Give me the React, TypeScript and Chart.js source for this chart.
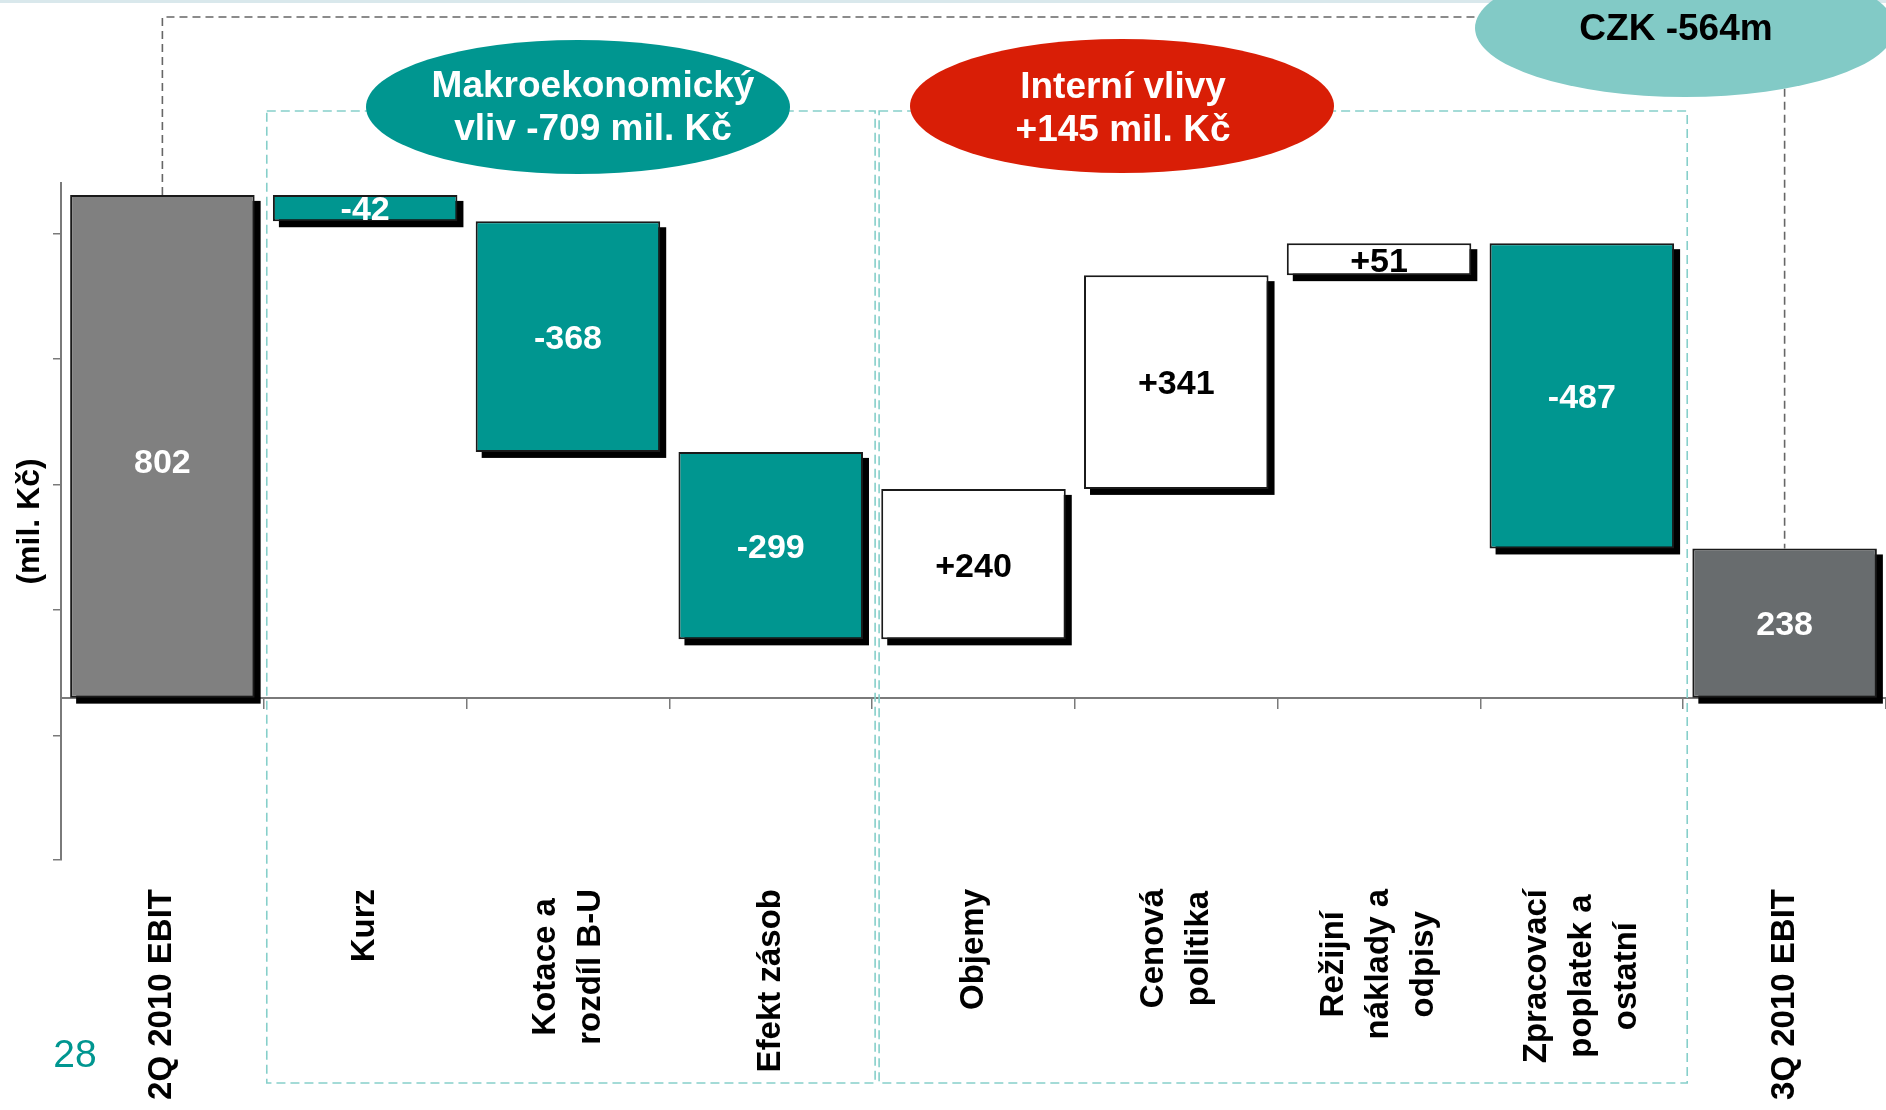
import React, { useEffect, useRef } from 'react';
import { Chart, registerables } from 'chart.js';

Chart.register(...registerables);

// ---- data ----
const categories: string[][] = [
  ['2Q 2010 EBIT'],
  ['Kurz'],
  ['Kotace a', 'rozdíl B-U'],
  ['Efekt zásob'],
  ['Objemy'],
  ['Cenová', 'politika'],
  ['Režijní', 'náklady a', 'odpisy'],
  ['Zpracovací', 'poplatek a', 'ostatní'],
  ['3Q 2010 EBIT'],
];
const barKinds = ['total', 'change', 'change', 'change', 'change', 'change', 'change', 'change', 'total'];
const values = [802, -42, -368, -299, 240, 341, 51, -487, 238];
const valueLabels = ['802', '-42', '-368', '-299', '+240', '+341', '+51', '-487', '238'];
const yTickValues = [-259, -60, 140, 340, 540, 740];
const yMin = -259;
const yMax = 821;
const yTitle = '(mil. Kč)';
const macroText = ['Makroekonomický', 'vliv -709 mil. Kč'];
const internalText = ['Interní vlivy', '+145 mil. Kč'];
const totalText = 'CZK -564m';
const pageNumber = '28';

// ---- styling ----
const FONT = '"Liberation Sans", Arial, Helvetica, sans-serif';
const TEAL = '#009690';
const RED = '#d91e06';
const LIGHT_TEAL = '#82cac6';
const DASH_TEAL = '#86cfca';
const GRAY1 = '#808080';
const GRAY2 = '#686c6e';
// vertical nudge (px) of the value label inside a bar, by bar index (style only)
const labelNudge: Record<number, number> = { 0: 14 };

// build floating ranges (waterfall) from values
const ranges: [number, number][] = [];
{
  let running = 0;
  values.forEach((v, i) => {
    if (barKinds[i] === 'total') {
      ranges.push([0, v]);
      running = v;
    } else {
      ranges.push([running, running + v]);
      running += v;
    }
  });
}
const fillColors = values.map((v, i) =>
  barKinds[i] === 'total' ? (i === 0 ? GRAY1 : GRAY2) : v < 0 ? TEAL : '#ffffff'
);
const labelColors = values.map((v, i) => (barKinds[i] === 'total' || v < 0 ? '#ffffff' : '#000000'));

const decorPlugin = {
  id: 'decor',
  beforeDraw(chart: any) {
    const ctx = chart.ctx;
    ctx.save();
    ctx.fillStyle = '#ffffff';
    ctx.fillRect(0, 0, chart.width, chart.height);
    ctx.fillStyle = '#d9e8ec';
    ctx.fillRect(0, 0, chart.width, 3);
    ctx.restore();
  },
  beforeDatasetsDraw(chart: any) {
    const ctx = chart.ctx;
    const xs = chart.scales.x;
    const meta = chart.getDatasetMeta(0);
    const bnd = (k: number) => (xs.getPixelForValue(k - 1) + xs.getPixelForValue(k)) / 2;

    // teal dashed group boxes
    ctx.save();
    ctx.strokeStyle = DASH_TEAL;
    ctx.lineWidth = 1.6;
    ctx.setLineDash([9, 5]);
    const top = 111;
    const bottom = 1083;
    const b1l = bnd(1) + 3;
    const b1r = bnd(4) + 3;
    const b2l = bnd(4) + 7;
    const b2r = bnd(8) + 4;
    ctx.strokeRect(b1l, top, b1r - b1l, bottom - top);
    ctx.strokeRect(b2l, top, b2r - b2l, bottom - top);
    ctx.restore();

    // gray dashed connector
    const first = meta.data[0];
    const last = meta.data[meta.data.length - 1];
    ctx.save();
    ctx.strokeStyle = '#666666';
    ctx.lineWidth = 1.6;
    ctx.setLineDash([8, 5]);
    ctx.beginPath();
    ctx.moveTo(first.x, first.y);
    ctx.lineTo(first.x, 17);
    ctx.lineTo(last.x, 17);
    ctx.lineTo(last.x, last.y);
    ctx.stroke();
    ctx.restore();

    // bar shadows
    ctx.save();
    ctx.fillStyle = '#000000';
    meta.data.forEach((el: any) => {
      const p = el.getProps(['x', 'y', 'base', 'width'], true);
      const t = Math.min(p.y, p.base);
      const h = Math.abs(p.base - p.y);
      ctx.fillRect(p.x - p.width / 2 + 6, t + 6, p.width, h);
    });
    ctx.restore();
  },
  afterDatasetsDraw(chart: any) {
    const ctx = chart.ctx;
    const meta = chart.getDatasetMeta(0);
    ctx.save();
    ctx.font = `bold 34px ${FONT}`;
    ctx.textAlign = 'center';
    ctx.textBaseline = 'middle';
    meta.data.forEach((el: any, i: number) => {
      const p = el.getProps(['x', 'y', 'base'], true);
      ctx.fillStyle = labelColors[i];
      ctx.fillText(valueLabels[i], p.x, (p.y + p.base) / 2 + 3 + (labelNudge[i] || 0));
    });
    ctx.restore();
  },
  afterDraw(chart: any) {
    const ctx = chart.ctx;
    const xs = chart.scales.x;

    // category labels (rotated; lines centred on each other, block top-aligned)
    ctx.save();
    ctx.font = `bold 33px ${FONT}`;
    ctx.fillStyle = '#000000';
    ctx.textAlign = 'center';
    ctx.textBaseline = 'middle';
    const lh = 45;
    const topY = 889;
    (chart.data.labels as string[][]).forEach((lines, i) => {
      const x = xs.getPixelForValue(i);
      const maxW = Math.max(...lines.map((ln) => ctx.measureText(ln).width));
      ctx.save();
      ctx.translate(x, topY + maxW / 2);
      ctx.rotate(-Math.PI / 2);
      lines.forEach((ln, j) => {
        ctx.fillText(ln, 0, (j - (lines.length - 1) / 2) * lh);
      });
      ctx.restore();
    });
    ctx.restore();

    const ellipse = (cx: number, cy: number, rx: number, ry: number, color: string) => {
      ctx.beginPath();
      ctx.ellipse(cx, cy, rx, ry, 0, 0, Math.PI * 2);
      ctx.fillStyle = color;
      ctx.fill();
    };
    ctx.save();
    ellipse(578, 107, 212, 67, TEAL);
    ellipse(1122, 106, 212, 67, RED);
    ellipse(1685, 28, 210, 69, LIGHT_TEAL);

    ctx.textAlign = 'center';
    ctx.textBaseline = 'middle';
    ctx.font = `bold 37px ${FONT}`;
    ctx.fillStyle = '#ffffff';
    ctx.fillText(macroText[0], 593, 87);
    ctx.fillText(macroText[1], 593, 130);
    ctx.fillText(internalText[0], 1123, 88);
    ctx.fillText(internalText[1], 1123, 131);
    ctx.fillStyle = '#000000';
    ctx.fillText(totalText, 1676, 30);

    ctx.font = `39px ${FONT}`;
    ctx.fillStyle = TEAL;
    ctx.fillText(pageNumber, 75, 1056);
    ctx.restore();
  },
};

export default function App() {
  const ref = useRef<HTMLCanvasElement>(null);

  useEffect(() => {
    const canvas = ref.current;
    if (!canvas) return;
    const chart = new Chart(canvas, {
      type: 'bar',
      data: {
        labels: categories as any,
        datasets: [
          {
            data: ranges as any,
            backgroundColor: fillColors,
            borderColor: '#1a1a1a',
            borderWidth: 2,
            borderSkipped: false,
            barPercentage: 0.91,
            categoryPercentage: 1,
            xAxisID: 'x',
            yAxisID: 'y',
          },
        ],
      },
      options: {
        responsive: false,
        animation: false,
        devicePixelRatio: 1,
        layout: { padding: { top: 183, left: 0, right: 0, bottom: 0 } },
        plugins: {
          legend: { display: false },
          tooltip: { enabled: false },
          title: { display: false },
        },
        scales: {
          x: {
            type: 'category',
            position: 'bottom',
            offset: true,
            grid: { display: false },
            border: { display: false },
            ticks: { display: false },
            afterFit: (s: any) => {
              s.height = 250;
            },
          },
          x2: {
            type: 'category',
            axis: 'x',
            position: { y: 0 } as any,
            labels: categories.map((c) => c.join(' ')),
            offset: true,
            grid: {
              display: true,
              drawOnChartArea: false,
              drawTicks: true,
              tickLength: 10,
              color: '#7a7a7a',
              lineWidth: 1.5,
              offset: true,
            },
            border: { display: true, color: '#7a7a7a', width: 2 },
            ticks: { display: false },
          },
          y: {
            type: 'linear',
            position: 'left',
            min: yMin,
            max: yMax,
            afterBuildTicks: (s: any) => {
              s.ticks = yTickValues.map((v) => ({ value: v }));
            },
            afterFit: (s: any) => {
              s.width = 61;
            },
            grid: {
              display: true,
              drawOnChartArea: false,
              drawTicks: true,
              tickLength: 8,
              color: '#7a7a7a',
              lineWidth: 1.5,
            },
            border: { display: true, color: '#7a7a7a', width: 2 },
            ticks: { display: false },
            title: {
              display: true,
              text: yTitle,
              color: '#000000',
              font: { family: FONT, size: 32, weight: 'bold' },
              padding: { top: 11, bottom: 0 },
            },
          },
        },
      } as any,
      plugins: [decorPlugin],
    });
    return () => chart.destroy();
  }, []);

  return (
    <div style={{ position: 'fixed', left: 0, top: 0, width: 1886, height: 1110, background: '#ffffff' }}>
      <canvas ref={ref} width={1886} height={1110} style={{ display: 'block', width: 1886, height: 1110 }} />
    </div>
  );
}
